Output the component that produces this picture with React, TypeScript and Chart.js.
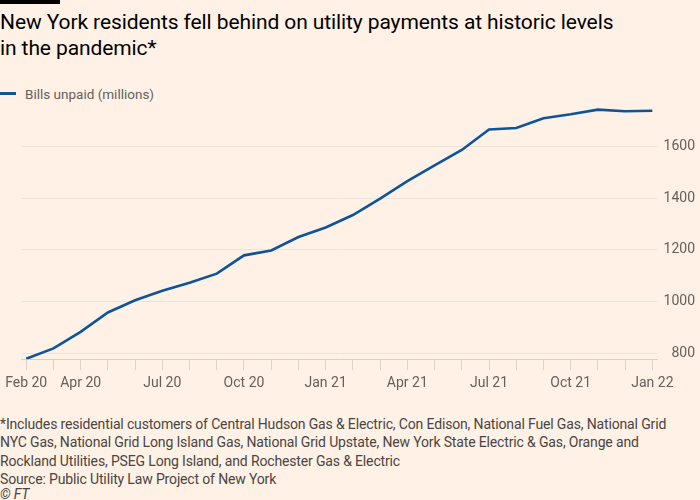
import React, { useEffect, useRef } from "react";
import { Chart, registerables } from "chart.js";

Chart.register(...registerables);

const months = [
  "Feb 20", "Mar 20", "Apr 20", "May 20", "Jun 20", "Jul 20", "Aug 20", "Sep 20",
  "Oct 20", "Nov 20", "Dec 20", "Jan 21", "Feb 21", "Mar 21", "Apr 21", "May 21",
  "Jun 21", "Jul 21", "Aug 21", "Sep 21", "Oct 21", "Nov 21", "Dec 21", "Jan 22",
];

const billsUnpaid = [
  778, 818, 882, 957, 1004, 1041, 1072, 1107, 1178, 1197, 1249, 1286,
  1334, 1398, 1465, 1526, 1586, 1665, 1671, 1709, 1724, 1742, 1736, 1738,
];

const shownTickLabels = [
  "Feb 20", "Apr 20", "Jul 20", "Oct 20", "Jan 21", "Apr 21", "Jul 21", "Oct 21", "Jan 22",
];

const yTicks = [800, 1000, 1200, 1400, 1600];

const seriesLabel = "Bills unpaid (millions)";

const titleLines = [
  "New York residents fell behind on utility payments at historic levels",
  "in the pandemic*",
];

const noteLines = [
  "*Includes residential customers of Central Hudson Gas & Electric, Con Edison, National Fuel Gas, National Grid",
  "NYC Gas, National Grid Long Island Gas, National Grid Upstate, New York State Electric & Gas, Orange and",
  "Rockland Utilities, PSEG Long Island, and Rochester Gas & Electric",
  "Source: Public Utility Law Project of New York",
];

const FONT = "Roboto, 'Liberation Sans', sans-serif";
const BG = "#FFF1E5";
const BLUE = "#0F5499";
const GREY = "#66605C";

// Draws the right-hand y tick labels right-aligned, using the y scale's own ticks and pixels.
const rightAlignedYLabels = {
  id: "rightAlignedYLabels",
  afterDraw(chart: any) {
    const scale = chart.scales.y;
    const ctx = chart.ctx;
    ctx.save();
    ctx.font = `14px ${FONT}`;
    ctx.fillStyle = GREY;
    ctx.textAlign = "right";
    ctx.textBaseline = "middle";
    const x = chart.chartArea.right + 38;
    for (const t of scale.ticks) {
      ctx.fillText(String(t.value), x, scale.getPixelForValue(t.value));
    }
    ctx.restore();
  },
};

export default function App() {
  const canvasRef = useRef<HTMLCanvasElement | null>(null);

  useEffect(() => {
    const canvas = canvasRef.current;
    if (!canvas) return;
    const chart = new Chart(canvas, {
      type: "line",
      data: {
        datasets: [
          {
            label: seriesLabel,
            data: billsUnpaid.map((v, i) => ({ x: i, y: v })),
            borderColor: BLUE,
            borderWidth: 2.6,
            pointRadius: 0,
            tension: 0,
            fill: false,
          },
        ],
      },
      options: {
        animation: false,
        responsive: false,
        layout: { padding: { left: 21, right: 0, top: 105, bottom: 3 } },
        plugins: { legend: { display: false }, tooltip: { enabled: false } },
        scales: {
          x: {
            type: "linear",
            min: -0.17,
            max: months.length - 1 + 0.17,
            afterBuildTicks: (scale: any) => {
              scale.ticks = months.map((_, i) => ({ value: i }));
            },
            ticks: {
              autoSkip: false,
              maxRotation: 0,
              padding: 5,
              color: GREY,
              font: { family: FONT, size: 14 },
              callback: (value: any) => {
                const m = months[Math.round(Number(value))];
                return shownTickLabels.includes(m) ? m : "";
              },
            },
            grid: {
              drawOnChartArea: false,
              drawTicks: true,
              tickLength: 11,
              color: "#DCD2C8",
            },
            border: { display: true, color: "#D8CEC4", width: 1 },
          },
          y: {
            position: "right",
            min: 776,
            max: 1760,
            afterBuildTicks: (scale: any) => {
              scale.ticks = yTicks.map((v) => ({ value: v }));
            },
            afterFit: (scale: any) => {
              scale.width = 43;
            },
            ticks: { display: false },
            grid: { drawTicks: false, color: "#EEE3D9", lineWidth: 1 },
            border: { display: false },
          },
        },
      },
      plugins: [rightAlignedYLabels],
    });
    return () => chart.destroy();
  }, []);

  return (
    <div
      style={{
        position: "fixed",
        left: 0,
        top: 0,
        width: 700,
        height: 500,
        background: BG,
        overflow: "hidden",
        fontFamily: FONT,
      }}
    >
      <div style={{ position: "absolute", left: 0, top: 0, width: 60, height: 4, background: "#000" }} />
      <div
        style={{
          position: "absolute",
          left: 0,
          top: 9,
          fontSize: 21,
          lineHeight: "26px",
          color: "#000",
          letterSpacing: -0.1,
          whiteSpace: "nowrap",
        }}
      >
        {titleLines.map((l) => (
          <div key={l}>{l}</div>
        ))}
      </div>
      <div style={{ position: "absolute", left: 0, top: 92, width: 16, height: 3, background: BLUE }} />
      <div
        style={{
          position: "absolute",
          left: 25,
          top: 86,
          fontSize: 13.5,
          lineHeight: "16px",
          color: GREY,
          whiteSpace: "nowrap",
        }}
      >
        {seriesLabel}
      </div>
      <canvas
        ref={canvasRef}
        width={700}
        height={400}
        style={{ position: "absolute", left: 0, top: 0, width: 700, height: 400 }}
      />
      <div
        style={{
          position: "absolute",
          left: 0,
          top: 415,
          fontSize: 14,
          lineHeight: "18.3px",
          color: "#4A4542",
          letterSpacing: -0.15,
          whiteSpace: "nowrap",
        }}
      >
        {noteLines.map((l) => (
          <div key={l}>{l}</div>
        ))}
        <div style={{ fontStyle: "italic", lineHeight: "13px" }}>© FT</div>
      </div>
    </div>
  );
}
